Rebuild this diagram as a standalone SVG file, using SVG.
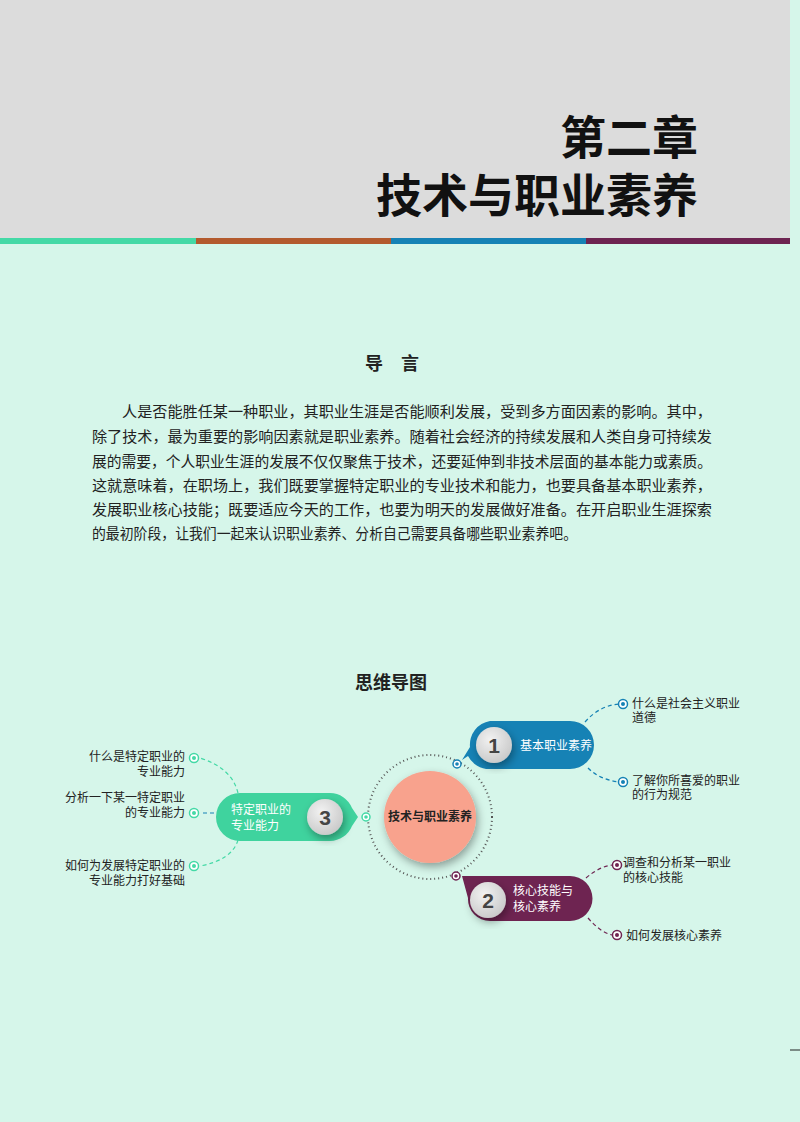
<svg xmlns="http://www.w3.org/2000/svg" width="800" height="1122" viewBox="0 0 800 1122">
<style>
text{font-family:"Noto Sans CJK SC","Liberation Sans",sans-serif}
.p{font-size:15px;fill:#222}
.lf{font-size:12px;fill:#222}
.w{font-size:12px;fill:#fff}
.num{font-size:21px;font-weight:bold;fill:#444;font-family:"Liberation Sans",sans-serif}
.dash{fill:none;stroke-width:1.2;stroke-dasharray:4 3}
</style>
<defs>
<radialGradient id="ng" cx="0.4" cy="0.35" r="0.7"><stop offset="0" stop-color="#f2f2f2"/><stop offset="1" stop-color="#c8c8c8"/></radialGradient>
<filter id="sh" x="-30%" y="-30%" width="160%" height="160%"><feDropShadow dx="2" dy="4" stdDeviation="4" flood-opacity="0.35"/></filter>
</defs>
<rect width="800" height="1122" fill="#d6f6ea"/>
<rect width="790" height="238" fill="#dcdcdc"/>
<rect x="0" y="238" width="196" height="6" fill="#44d9a6"/>
<rect x="196" y="238" width="195" height="6" fill="#b35a2e"/>
<rect x="391" y="238" width="195" height="6" fill="#1682b5"/>
<rect x="586" y="238" width="204" height="6" fill="#6e2451"/>
<text x="698" y="154" text-anchor="end" font-size="46" font-weight="bold" fill="#111">第二章</text>
<text x="698" y="212" text-anchor="end" font-size="46" font-weight="bold" fill="#111">技术与职业素养</text>
<text x="392" y="370" text-anchor="middle" font-size="18" font-weight="bold" fill="#222">导　言</text>
<text class="p" x="122" y="417" textLength="590" lengthAdjust="spacingAndGlyphs">人是否能胜任某一种职业，其职业生涯是否能顺利发展，受到多方面因素的影响。其中，</text>
<text class="p" x="92" y="442" textLength="620" lengthAdjust="spacingAndGlyphs">除了技术，最为重要的影响因素就是职业素养。随着社会经济的持续发展和人类自身可持续发</text>
<text class="p" x="92" y="467" textLength="620" lengthAdjust="spacingAndGlyphs">展的需要，个人职业生涯的发展不仅仅聚焦于技术，还要延伸到非技术层面的基本能力或素质。</text>
<text class="p" x="92" y="491" textLength="620" lengthAdjust="spacingAndGlyphs">这就意味着，在职场上，我们既要掌握特定职业的专业技术和能力，也要具备基本职业素养，</text>
<text class="p" x="92" y="515" textLength="620" lengthAdjust="spacingAndGlyphs">发展职业核心技能；既要适应今天的工作，也要为明天的发展做好准备。在开启职业生涯探索</text>
<text class="p" x="92" y="539" textLength="485" lengthAdjust="spacingAndGlyphs">的最初阶段，让我们一起来认识职业素养、分析自己需要具备哪些职业素养吧。</text>
<text x="391" y="689" text-anchor="middle" font-size="18" font-weight="bold" fill="#222">思维导图</text>

<g id="connectors">
<path class="dash" stroke="#1682b5" d="M585,722 Q600,705 620,704"/>
<path class="dash" stroke="#1682b5" d="M588,768 Q600,780 620,782"/>
<path class="dash" stroke="#6e2451" d="M586,878 Q600,866 613,865"/>
<path class="dash" stroke="#6e2451" d="M588,918 Q600,932 612,935"/>
<path class="dash" stroke="#44d9a6" d="M238,793 Q232,768 200,758"/>
<path class="dash" stroke="#1682b5" d="M228,813 L200,813"/>
<path class="dash" stroke="#44d9a6" d="M238,840 Q232,860 200,866"/>
</g>

<g id="center">
<circle cx="430" cy="817" r="62" fill="none" stroke="#555" stroke-width="2" stroke-dasharray="1 3"/>
<circle cx="430" cy="817" r="46" fill="#f8a28d" filter="url(#sh)"/>
<text x="430" y="821" text-anchor="middle" font-size="12" font-weight="bold" fill="#222">技术与职业素养</text>
<circle cx="457" cy="764" r="4" fill="#fff" stroke="#1682b5" stroke-width="1.5"/><circle cx="457" cy="764" r="1.8" fill="#1682b5"/>
<circle cx="366" cy="817" r="4" fill="#fff" stroke="#44d9a6" stroke-width="1.5"/><circle cx="366" cy="817" r="1.8" fill="#44d9a6"/>
<circle cx="456" cy="876" r="4" fill="#fff" stroke="#6e2451" stroke-width="1.5"/><circle cx="456" cy="876" r="1.8" fill="#6e2451"/>
</g>

<g id="node1">
<path d="M490,721 H570 A24,24 0 0 1 570,769 H490 A24,24 0 0 1 468,756 L462,760 L470,747 A24,24 0 0 1 490,721Z" fill="#1682b5"/>
<circle cx="494" cy="745" r="18" fill="url(#ng)" filter="url(#sh)"/>
<text class="num" x="494" y="753" text-anchor="middle">1</text>
<text class="w" x="520" y="750">基本职业素养</text>
</g>
<g id="node2">
<path d="M490,876 H570 A22,22 0 0 1 570,921 H490 A22,22 0 0 1 468,898 L462,876 Z" fill="#6e2451"/>
<circle cx="488" cy="900" r="18" fill="url(#ng)" filter="url(#sh)"/>
<text class="num" x="488" y="908" text-anchor="middle">2</text>
<text class="w" x="513" y="895">核心技能与</text>
<text class="w" x="513" y="911">核心素养</text>
</g>
<g id="node3">
<path d="M240,793 H330 A24,24 0 0 1 352,808 L358,817 L352,826 A24,24 0 0 1 330,841 H240 A24,24 0 0 1 240,793Z" fill="#3fd39e"/>
<circle cx="325" cy="817" r="18" fill="url(#ng)" filter="url(#sh)"/>
<text class="num" x="325" y="825" text-anchor="middle">3</text>
<text class="w" x="231" y="814">特定职业的</text>
<text class="w" x="231" y="830">专业能力</text>
</g>

<g id="leaf1a"><circle cx="623" cy="704" r="4.5" fill="#fff" stroke="#1682b5" stroke-width="1.5"/><circle cx="623" cy="704" r="2" fill="#1682b5"/>
<text class="lf" x="632" y="708">什么是社会主义职业</text><text class="lf" x="632" y="722">道德</text></g>
<g id="leaf1b"><circle cx="623" cy="782" r="4.5" fill="#fff" stroke="#1682b5" stroke-width="1.5"/><circle cx="623" cy="782" r="2" fill="#1682b5"/>
<text class="lf" x="632" y="785">了解你所喜爱的职业</text><text class="lf" x="632" y="799">的行为规范</text></g>
<g id="leaf2a"><circle cx="617" cy="865" r="4.5" fill="#fff" stroke="#6e2451" stroke-width="1.5"/><circle cx="617" cy="865" r="2" fill="#6e2451"/>
<text class="lf" x="623" y="867">调查和分析某一职业</text><text class="lf" x="623" y="882">的核心技能</text></g>
<g id="leaf2b"><circle cx="617" cy="935" r="4.5" fill="#fff" stroke="#6e2451" stroke-width="1.5"/><circle cx="617" cy="935" r="2" fill="#6e2451"/>
<text class="lf" x="626" y="940">如何发展核心素养</text></g>
<g id="leaf3a"><circle cx="194" cy="758" r="4.5" fill="#fff" stroke="#44d9a6" stroke-width="1.5"/><circle cx="194" cy="758" r="2" fill="#44d9a6"/>
<text class="lf" x="185" y="761" text-anchor="end">什么是特定职业的</text><text class="lf" x="185" y="776" text-anchor="end">专业能力</text></g>
<g id="leaf3b"><circle cx="194" cy="813" r="4.5" fill="#fff" stroke="#44d9a6" stroke-width="1.5"/><circle cx="194" cy="813" r="2" fill="#44d9a6"/>
<text class="lf" x="185" y="802" text-anchor="end">分析一下某一特定职业</text><text class="lf" x="185" y="817" text-anchor="end">的专业能力</text></g>
<g id="leaf3c"><circle cx="194" cy="866" r="4.5" fill="#fff" stroke="#44d9a6" stroke-width="1.5"/><circle cx="194" cy="866" r="2" fill="#44d9a6"/>
<text class="lf" x="185" y="870" text-anchor="end">如何为发展特定职业的</text><text class="lf" x="185" y="885" text-anchor="end">专业能力打好基础</text></g>
<line x1="790" y1="1050" x2="800" y2="1050" stroke="#222" stroke-width="1"/>
</svg>
